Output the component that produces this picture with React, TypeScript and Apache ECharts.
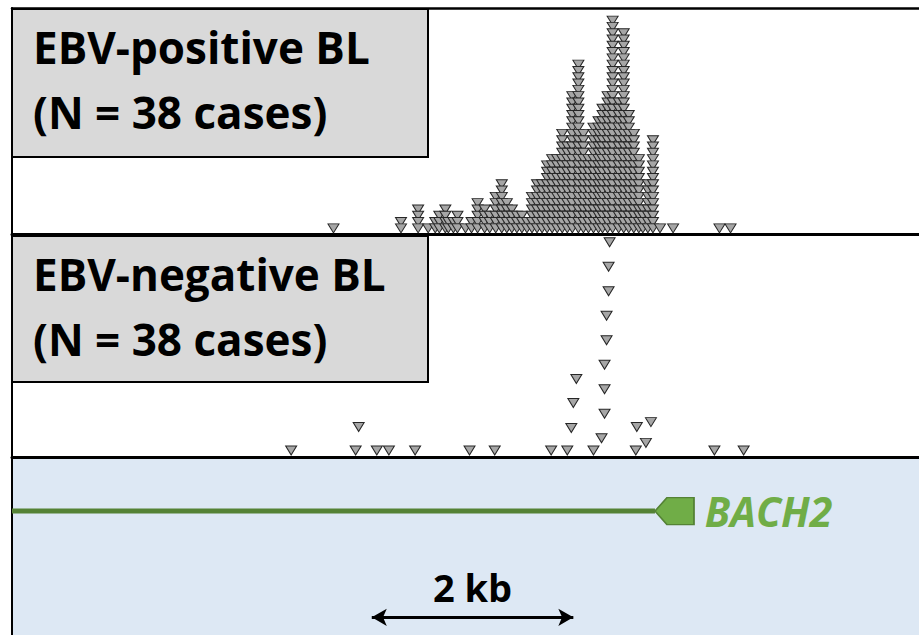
import React, { useEffect, useRef } from "react";
import * as echarts from "echarts";

// Genomic window shown, in kb from its left edge
const WINDOW_KB: [number, number] = [0, 9];

// EBV-positive BL: mutation sites (kb) and how many mutations stack at each site
const ebvPosSites = [
  3.19, 3.86, 4.03, 4.13, 4.2, 4.24, 4.3, 4.33, 4.38, 4.42,
  4.5, 4.56, 4.62, 4.69, 4.74, 4.8, 4.86, 4.91, 4.96, 5.01,
  5.06, 5.11, 5.16, 5.21, 5.26, 5.31, 5.36, 5.41, 5.46, 5.51,
  5.56, 5.62, 5.67, 5.72, 5.77, 5.82, 5.86, 5.91, 5.96, 6.02,
  6.07, 6.12, 6.17, 6.22, 6.26, 6.31, 6.36, 6.43, 6.56, 7.02,
  7.13,
];
const ebvPosCounts = [
  1, 2, 4, 1, 2, 3, 4, 2, 2, 3,
  1, 2, 5, 4, 3, 6, 8, 5, 4, 3,
  3, 2, 6, 8, 8, 11, 12, 12, 16, 14,
  22, 27, 16, 12, 17, 18, 20, 22, 34, 21,
  32, 19, 16, 12, 4, 8, 15, 1, 1, 1,
  1,
];

// EBV-negative BL: each mutation's position (kb) and its row in the pile-up
const ebvNegPos = [
  2.77, 3.41, 3.62, 3.74, 4.0, 4.54, 4.79, 5.35, 5.51, 5.77, 6.19, 6.97, 7.26,
  3.44, 5.55, 5.57, 5.6,
  5.85, 5.88, 5.88, 5.88, 5.9, 5.9, 5.92, 5.92, 5.93,
  6.2, 6.29, 6.34,
];
const ebvNegRow = [
  0, 0, 0, 0, 0, 0, 0, 0, 0, 0, 0, 0, 0,
  0.96, 0.92, 1.94, 2.92,
  0.5, 1.5, 2.5, 3.5, 4.5, 5.5, 6.5, 7.5, 8.5,
  0.96, 0.31, 1.16,
];

const panelTitles = ["EBV-positive BL", "EBV-negative BL"];
const panelCases = [38, 38];

const geneName = "BACH2";
const geneStartKb = 6.38;
const scaleBarStartKb = 3.57;
const scaleBarKb = 2;

const FONT = '"Open Sans", "Noto Sans", sans-serif';
const MARK_FILL = "#a6a6a6";
const MARK_EDGE = "#262626";
const GENE_FILL = "#70ad47";
const GENE_EDGE = "#548235";

// Pile-up for the top panel: one triangle per mutation, lower rows drawn last
function stackSites(sites: number[], counts: number[]): number[][] {
  const pts: number[][] = [];
  sites.forEach((x, i) => {
    for (let k = 0; k < counts[i]; k++) pts.push([x, k]);
  });
  return pts.sort((a, b) => b[1] - a[1]);
}

function pairUp(xs: number[], ys: number[]): number[][] {
  return xs.map((x, i) => [x, ys[i]]).sort((a, b) => b[1] - a[1]);
}

const hiddenAxis = {
  axisTick: { show: false },
  axisLabel: { show: false },
  splitLine: { show: false },
};

export default function App() {
  const ref = useRef<HTMLDivElement>(null);

  useEffect(() => {
    const chart = echarts.init(ref.current!, null, { renderer: "svg" });

    const triangleStyle = {
      type: "scatter" as const,
      symbol: "triangle",
      symbolRotate: 180,
      symbolSize: [11, 9],
      itemStyle: { color: MARK_FILL, borderColor: MARK_EDGE, borderWidth: 1, opacity: 1 },
      silent: true,
    };

    const titleBox = (top: number, h: number, i: number) => ({
      type: "group",
      children: [
        {
          type: "rect",
          shape: { x: 12, y: top, width: 416, height: h },
          style: { fill: "#d9d9d9", stroke: "#000", lineWidth: 2 },
          z: 10,
        },
        {
          type: "text",
          style: {
            text: panelTitles[i],
            x: 33,
            y: top + 38,
            font: `bold 44px ${FONT}`,
            fill: "#000",
            verticalAlign: "middle",
          },
          z: 11,
        },
        {
          type: "text",
          style: {
            text: `(N = ${panelCases[i]} cases)`,
            x: 33,
            y: top + 103,
            font: `bold 44px ${FONT}`,
            fill: "#000",
            verticalAlign: "middle",
          },
          z: 11,
        },
      ],
    });

    const scaleMid = scaleBarStartKb + scaleBarKb / 2;

    chart.setOption({
      animation: false,
      backgroundColor: "#fff",
      grid: [
        { left: 12, right: 0, top: 8, height: 226 },
        { left: 12, right: 0, top: 234, height: 223 },
        {
          left: 12,
          right: 0,
          top: 458,
          height: 177,
          show: true,
          backgroundColor: "#dde8f4",
          borderWidth: 0,
        },
      ],
      xAxis: [
        {
          gridIndex: 0, type: "value", min: WINDOW_KB[0], max: WINDOW_KB[1],
          axisLine: { show: true, onZero: false, lineStyle: { color: "#000", width: 3 } },
          ...hiddenAxis,
        },
        {
          gridIndex: 1, type: "value", min: WINDOW_KB[0], max: WINDOW_KB[1],
          axisLine: { show: true, onZero: false, lineStyle: { color: "#000", width: 3 } },
          ...hiddenAxis,
        },
        {
          gridIndex: 2, type: "value", min: WINDOW_KB[0], max: WINDOW_KB[1],
          axisLine: { show: false },
          ...hiddenAxis,
        },
        {
          gridIndex: 0, type: "value", position: "top", min: WINDOW_KB[0], max: WINDOW_KB[1],
          axisLine: { show: true, onZero: false, lineStyle: { color: "#000", width: 2.5 } },
          ...hiddenAxis,
        },
      ],
      yAxis: [
        {
          gridIndex: 0, type: "value", min: -0.9, max: 35,
          axisLine: { show: true, onZero: false, lineStyle: { color: "#000", width: 2 } },
          ...hiddenAxis,
        },
        {
          gridIndex: 1, type: "value", min: -0.265, max: 8.837,
          axisLine: { show: true, onZero: false, lineStyle: { color: "#000", width: 2 } },
          ...hiddenAxis,
        },
        {
          gridIndex: 2, type: "value", min: 0, max: 1,
          axisLine: { show: true, onZero: false, lineStyle: { color: "#000", width: 2 } },
          ...hiddenAxis,
        },
      ],
      series: [
        {
          ...triangleStyle,
          name: panelTitles[0],
          xAxisIndex: 0,
          yAxisIndex: 0,
          data: stackSites(ebvPosSites, ebvPosCounts),
        },
        {
          ...triangleStyle,
          name: panelTitles[1],
          xAxisIndex: 1,
          yAxisIndex: 1,
          data: pairUp(ebvNegPos, ebvNegRow),
        },
        {
          type: "line",
          name: "gene track",
          xAxisIndex: 2,
          yAxisIndex: 2,
          data: [
            [WINDOW_KB[0], 0.7],
            [geneStartKb, 0.7],
          ],
          showSymbol: false,
          symbol: "none",
          lineStyle: { color: GENE_EDGE, width: 5, opacity: 1 },
          silent: true,
          markLine: {
            silent: true,
            symbol: ["arrow", "arrow"],
            symbolSize: [13, 15],
            lineStyle: { color: "#000", width: 3, type: "solid", opacity: 1 },
            label: { show: false },
            data: [
              [
                { coord: [scaleBarStartKb, 0.1] },
                { coord: [scaleBarStartKb + scaleBarKb, 0.1] },
              ],
            ],
          },
        },
        {
          type: "scatter",
          name: geneName,
          xAxisIndex: 2,
          yAxisIndex: 2,
          data: [[geneStartKb, 0.7]],
          symbol: "path://M0,13.5L12,0L39,0L39,27L12,27Z",
          symbolSize: [39, 27],
          symbolOffset: [19.5, 0],
          itemStyle: { color: GENE_FILL, borderColor: GENE_EDGE, borderWidth: 1.5, opacity: 1 },
          silent: true,
          label: {
            show: true,
            formatter: geneName,
            position: "right",
            distance: 10,
            color: GENE_FILL,
            fontSize: 41,
            fontStyle: "italic",
            fontWeight: "bold",
            fontFamily: FONT,
          },
        },
        {
          type: "scatter",
          name: "scale label",
          xAxisIndex: 2,
          yAxisIndex: 2,
          data: [[scaleMid, 0.27]],
          symbolSize: 0,
          itemStyle: { opacity: 1 },
          silent: true,
          label: {
            show: true,
            formatter: `${scaleBarKb} kb`,
            position: "inside",
            color: "#000",
            fontSize: 38,
            fontWeight: "bold",
            fontFamily: FONT,
          },
        },
      ],
      graphic: [titleBox(9, 148, 0), titleBox(236, 146, 1)],
    });

    return () => chart.dispose();
  }, []);

  return (
    <div
      ref={ref}
      style={{ position: "fixed", left: 0, top: 0, width: 919, height: 635, background: "#fff" }}
    />
  );
}
